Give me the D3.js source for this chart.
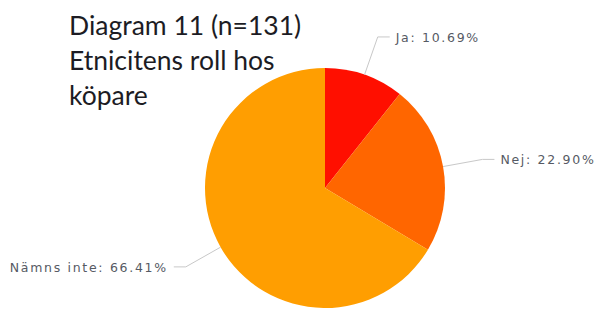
<!doctype html>
<html lang="sv">
<head>
<meta charset="UTF-8">
<title>Diagram 11</title>
<script src="https://d3js.org/d3.v7.min.js"></script>
<style>
  body { margin: 0; background: #fff; }
  svg { display: block; }
  .title { font-family: Lato, "Open Sans", sans-serif; font-size: 26.5px; fill: #1c1c24; }
  .lbl { font-family: "DejaVu Sans", Verdana, sans-serif; font-size: 12.5px; fill: #565a64; letter-spacing: 1.7px; }
</style>
</head>
<body>
<svg width="603" height="309"></svg>
<script>
  const categories = ["Ja", "Nej", "Nämns inte"];
  const values = [10.69, 22.90, 66.41];
  const colors = ["#FF0F00", "#FF6600", "#FF9E01"];
  const titleLines = ["Diagram 11 (n=131)", "Etnicitens roll hos", "köpare"];

  const svg = d3.select("svg");
  const cx = 325, cy = 188, r = 120;

  const data = categories.map((c, i) => ({ name: c, value: values[i], color: colors[i] }));
  const pie = d3.pie().sort(null).value(d => d.value);
  const arcs = pie(data);
  const arc = d3.arc().innerRadius(0).outerRadius(r);
  const edgeArc = d3.arc().innerRadius(r).outerRadius(r);
  const outerArc = d3.arc().innerRadius(160).outerRadius(160);
  const side = d => ((d.startAngle + d.endAngle) / 2 < Math.PI ? 1 : -1);

  const g = svg.append("g").attr("transform", `translate(${cx},${cy})`);

  g.selectAll("path.slice")
    .data(arcs)
    .enter()
    .append("path")
    .attr("class", "slice")
    .attr("d", arc)
    .attr("fill", d => d.data.color);

  // leader lines
  g.selectAll("polyline")
    .data(arcs)
    .enter()
    .append("polyline")
    .attr("fill", "none")
    .attr("stroke", "#c8c8c8")
    .attr("stroke-width", 1)
    .attr("points", d => {
      const a = edgeArc.centroid(d);
      const b = outerArc.centroid(d);
      return [a, b, [b[0] + side(d) * 12, b[1]]].map(p => p.join(",")).join(" ");
    });

  g.selectAll("text.lbl")
    .data(arcs)
    .enter()
    .append("text")
    .attr("class", "lbl")
    .attr("x", d => outerArc.centroid(d)[0] + side(d) * 18)
    .attr("y", d => outerArc.centroid(d)[1] + 5)
    .attr("text-anchor", d => side(d) > 0 ? "start" : "end")
    .text(d => `${d.data.name}: ${d.data.value.toFixed(2)}%`);

  svg.append("text")
    .attr("class", "title")
    .selectAll("tspan")
    .data(titleLines)
    .enter()
    .append("tspan")
    .attr("x", 69)
    .attr("y", (d, i) => 35 + i * 35)
    .text(d => d);
</script>
</body>
</html>
